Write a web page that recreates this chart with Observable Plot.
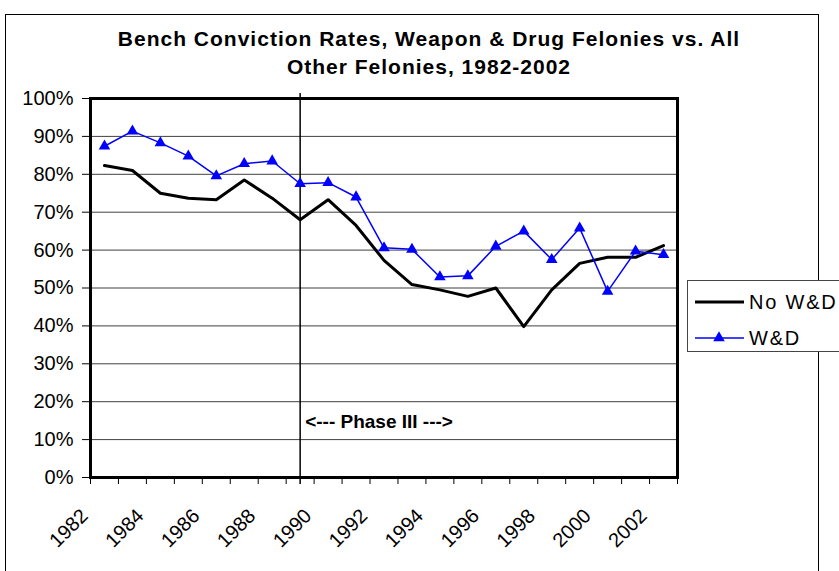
<!DOCTYPE html>
<html>
<head>
<meta charset="utf-8">
<script src="https://cdn.jsdelivr.net/npm/d3@7"></script>
<script src="https://cdn.jsdelivr.net/npm/@observablehq/plot@0.6"></script>
<style>
  body { margin: 0; background: #fff; font-family: "Liberation Sans", Arial, sans-serif; }
  #wrap { position: relative; width: 839px; height: 571px; overflow: hidden; background: #fff; }
  #border { position: absolute; left: 5px; top: 14px; width: 812px; height: 620px; border: 1px solid #000; }
  #chart { position: absolute; left: 0; top: 0; }
  #title { position: absolute; left: 0; top: 25px; width: 858px; text-align: center; font-weight: bold;
           font-size: 21px; line-height: 28px; letter-spacing: 1px; color: #000; }
  #legend { position: absolute; left: 687px; top: 280px; width: 170px; height: 70px;
            border: 1px solid #444; background: #fff; }
</style>
</head>
<body>
<div id="wrap">
  <div id="border"></div>
  <div id="chart"></div>
  <div id="title"></div>
  <div id="legend"></div>
</div>
<script>
// ---- data ----
const titleLines = ["Bench Conviction Rates, Weapon & Drug Felonies vs. All", "Other Felonies, 1982-2002"];
const years = [1982, 1983, 1984, 1985, 1986, 1987, 1988, 1989, 1990, 1991, 1992,
               1993, 1994, 1995, 1996, 1997, 1998, 1999, 2000, 2001, 2002];
const noWD = [0.823, 0.810, 0.750, 0.737, 0.733, 0.785, 0.737, 0.680, 0.733, 0.665, 0.573,
              0.509, 0.495, 0.478, 0.500, 0.398, 0.495, 0.565, 0.581, 0.581, 0.612];
const wd   = [0.874, 0.914, 0.883, 0.848, 0.796, 0.828, 0.835, 0.775, 0.778, 0.740, 0.606,
              0.602, 0.529, 0.532, 0.610, 0.650, 0.575, 0.658, 0.491, 0.597, 0.588];
const yTicks = [0, 0.1, 0.2, 0.3, 0.4, 0.5, 0.6, 0.7, 0.8, 0.9, 1.0];
const xTickLabels = ["1982", "1984", "1986", "1988", "1990", "1992", "1994", "1996", "1998", "2000", "2002"];
const seriesNames = ["No W&D", "W&D"];
const seriesColors = ["#000000", "#0000ff"];
const phaseYear = 1989;
const phaseLabel = "<--- Phase III --->";
const phaseLevel = 0.148;

// ---- derived tables ----
const rows = years.map((y, i) => ({year: y, noWD: noWD[i], wd: wd[i]}));
const boundaries = years.map(y => y - 0.5).concat([years[years.length - 1] + 0.5]);
const font = "'Liberation Sans', Arial, sans-serif";

const chart = Plot.plot({
  width: 839,
  height: 571,
  marginLeft: 90,
  marginRight: 162,
  marginTop: 98,
  marginBottom: 94,
  x: {domain: [years[0] - 0.5, years[years.length - 1] + 0.5], axis: null},
  y: {domain: [0, 1], axis: null},
  style: {fontFamily: font, fontSize: "20px", background: "transparent", overflow: "visible", color: "#000"},
  marks: [
    Plot.gridY(yTicks, {stroke: "#404040", strokeOpacity: 1, strokeWidth: 1}),
    Plot.axisY(yTicks, {tickSize: 8, tickPadding: 9, tickFormat: d3.format(".0%"), fontSize: 20, label: null,
                        stroke: "#000", strokeWidth: 1, fill: "#000", letterSpacing: 1.5}),
    // category-boundary tick marks below the x axis
    Plot.ruleX(boundaries, {x: d => d, y1: () => yTicks[0], insetBottom: -7, stroke: "#000", strokeWidth: 1}),
    Plot.text(xTickLabels, {x: d => +d - 0.5, text: d => d, frameAnchor: "bottom", rotate: -45,
                            textAnchor: "end", lineAnchor: "middle", dx: -6, dy: 35,
                            fontSize: 20, fill: "#000", letterSpacing: 1.5}),
    Plot.ruleX([phaseYear], {stroke: "#000", strokeWidth: 1.5, insetTop: -5, insetBottom: -7}),
    Plot.text([phaseLabel], {x: () => phaseYear, y: () => phaseLevel, text: d => d, textAnchor: "start",
                             dx: 5, fontWeight: "bold", fontSize: 19, fill: "#000", letterSpacing: 1.2}),
    Plot.line(rows, {x: "year", y: "noWD", stroke: seriesColors[0], strokeWidth: 3}),
    Plot.line(rows, {x: "year", y: "wd", stroke: seriesColors[1], strokeWidth: 1.5}),
    Plot.dot(rows, {x: "year", y: "wd", symbol: "triangle", fill: seriesColors[1], stroke: "none", r: 4.3}),
    Plot.frame({stroke: "#000", strokeWidth: 3})
  ]
});
document.getElementById("chart").appendChild(chart);

// ---- title ----
document.getElementById("title").innerHTML = titleLines.map(t =>
  t.replace(/&/g, "&amp;").replace(/</g, "&lt;")).join("<br>");

// ---- legend ----
const lg = d3.select("#legend").append("svg").attr("width", 170).attr("height", 70)
  .style("display", "block");
const rowsY = [21, 57];
seriesNames.forEach((name, i) => {
  const g = lg.append("g").attr("transform", `translate(0,${rowsY[i]})`);
  g.append("line").attr("x1", 7).attr("x2", 56).attr("y1", 0).attr("y2", 0)
    .attr("stroke", seriesColors[i]).attr("stroke-width", i === 0 ? 3 : 1.5);
  if (i === 1) {
    g.append("path").attr("d", d3.symbol(d3.symbolTriangle, Math.PI * 4.3 * 4.3)())
      .attr("transform", "translate(31,0)").attr("fill", seriesColors[i]);
  }
  g.append("text").attr("x", 61).attr("y", 0).attr("dy", "0.35em")
    .attr("font-family", font).attr("font-size", 20).attr("letter-spacing", 1.8)
    .attr("fill", "#000").text(name);
});
</script>
</body>
</html>
